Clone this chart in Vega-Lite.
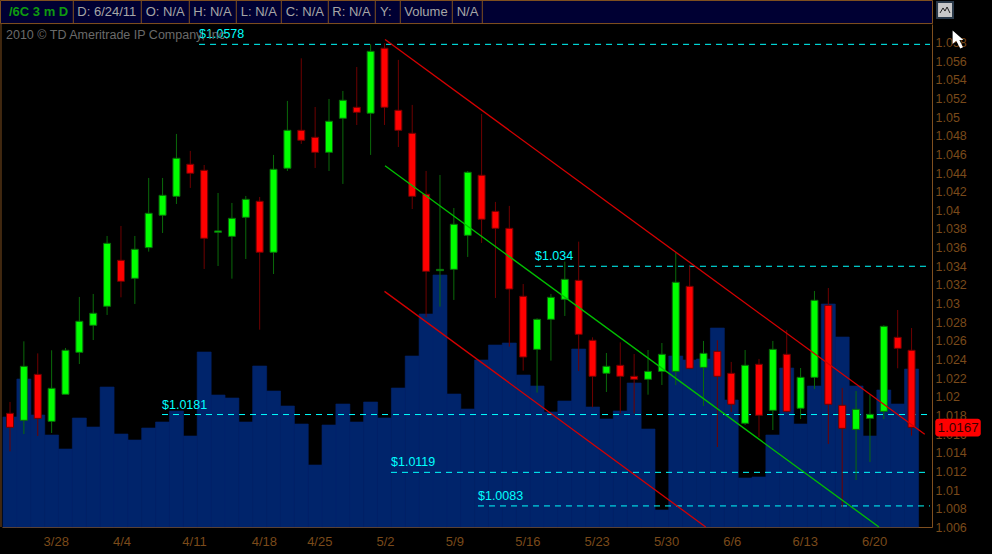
{"$schema":"https://vega.github.io/schema/vega-lite/v6.json","autosize":{"type":"none"},"width":930,"height":503,"padding":{"left":2,"top":24,"right":60,"bottom":27},"background":"#000000","config":{"view":{"stroke":null},"text":{"font":"Liberation Sans"},"scale":{"continuousPadding":0}},
"datasets":{"candles":[
{"bar":0,"date":"3/23","open":1.01823,"high":1.01945,"low":1.01415,"close":1.01673,"volume":11000,"dir":"down"},
{"bar":1,"date":"3/24","open":1.01748,"high":1.02595,"low":1.01601,"close":1.02327,"volume":14800,"dir":"up"},
{"bar":2,"date":"3/25","open":1.02241,"high":1.02466,"low":1.0158,"close":1.01769,"volume":11200,"dir":"down"},
{"bar":3,"date":"3/28","open":1.01737,"high":1.02499,"low":1.01612,"close":1.02091,"volume":9200,"dir":"up"},
{"bar":4,"date":"3/29","open":1.02027,"high":1.02524,"low":1.02027,"close":1.02499,"volume":7800,"dir":"up"},
{"bar":5,"date":"3/30","open":1.02477,"high":1.03071,"low":1.02352,"close":1.0281,"volume":10900,"dir":"up"},
{"bar":6,"date":"3/31","open":1.02767,"high":1.03103,"low":1.02609,"close":1.02896,"volume":10000,"dir":"up"},
{"bar":7,"date":"4/1","open":1.02971,"high":1.03725,"low":1.02878,"close":1.03646,"volume":14000,"dir":"up"},
{"bar":8,"date":"4/4","open":1.03464,"high":1.03832,"low":1.03067,"close":1.03239,"volume":9300,"dir":"down"},
{"bar":9,"date":"4/5","open":1.03271,"high":1.03725,"low":1.02996,"close":1.03582,"volume":8700,"dir":"up"},
{"bar":10,"date":"4/6","open":1.036,"high":1.04347,"low":1.03557,"close":1.03968,"volume":9900,"dir":"up"},
{"bar":11,"date":"4/7","open":1.03947,"high":1.04347,"low":1.03757,"close":1.04161,"volume":10500,"dir":"up"},
{"bar":12,"date":"4/8","open":1.0415,"high":1.04819,"low":1.04068,"close":1.04558,"volume":11600,"dir":"up"},
{"bar":13,"date":"4/11","open":1.04494,"high":1.04637,"low":1.0424,"close":1.04397,"volume":9100,"dir":"down"},
{"bar":14,"date":"4/12","open":1.04429,"high":1.04486,"low":1.03371,"close":1.037,"volume":17500,"dir":"down"},
{"bar":15,"date":"4/13","open":1.03764,"high":1.04186,"low":1.03403,"close":1.03779,"volume":13200,"dir":"up"},
{"bar":16,"date":"4/14","open":1.03721,"high":1.04079,"low":1.03267,"close":1.03914,"volume":12900,"dir":"up"},
{"bar":17,"date":"4/15","open":1.03925,"high":1.04154,"low":1.03478,"close":1.04118,"volume":10500,"dir":"up"},
{"bar":18,"date":"4/18","open":1.04097,"high":1.04143,"low":1.0272,"close":1.0355,"volume":16100,"dir":"down"},
{"bar":19,"date":"4/19","open":1.0355,"high":1.04594,"low":1.03317,"close":1.0444,"volume":13600,"dir":"up"},
{"bar":20,"date":"4/20","open":1.04451,"high":1.05173,"low":1.04422,"close":1.04858,"volume":12100,"dir":"up"},
{"bar":21,"date":"4/21","open":1.04858,"high":1.0563,"low":1.04712,"close":1.04751,"volume":10300,"dir":"down"},
{"bar":22,"date":"4/25","open":1.04783,"high":1.05108,"low":1.04454,"close":1.04622,"volume":6200,"dir":"down"},
{"bar":23,"date":"4/26","open":1.04622,"high":1.05194,"low":1.04422,"close":1.04955,"volume":10200,"dir":"up"},
{"bar":24,"date":"4/27","open":1.04987,"high":1.0528,"low":1.04283,"close":1.0518,"volume":12300,"dir":"up"},
{"bar":25,"date":"4/28","open":1.05105,"high":1.05537,"low":1.04915,"close":1.05051,"volume":10500,"dir":"down"},
{"bar":26,"date":"4/29","open":1.05041,"high":1.05781,"low":1.04594,"close":1.05705,"volume":12500,"dir":"up"},
{"bar":27,"date":"5/2","open":1.05738,"high":1.05791,"low":1.04915,"close":1.05105,"volume":10900,"dir":"down"},
{"bar":28,"date":"5/3","open":1.05073,"high":1.05613,"low":1.04679,"close":1.04858,"volume":13900,"dir":"down"},
{"bar":29,"date":"5/4","open":1.04826,"high":1.0513,"low":1.04014,"close":1.0415,"volume":17100,"dir":"down"},
{"bar":30,"date":"5/5","open":1.04172,"high":1.04422,"low":1.02853,"close":1.03346,"volume":21300,"dir":"down"},
{"bar":31,"date":"5/6","open":1.03353,"high":1.04379,"low":1.02967,"close":1.03367,"volume":25200,"dir":"up"},
{"bar":32,"date":"5/9","open":1.03367,"high":1.04025,"low":1.03039,"close":1.0385,"volume":13300,"dir":"up"},
{"bar":33,"date":"5/10","open":1.03732,"high":1.04422,"low":1.035,"close":1.04408,"volume":11800,"dir":"up"},
{"bar":34,"date":"5/11","open":1.04376,"high":1.05033,"low":1.0365,"close":1.03904,"volume":16700,"dir":"down"},
{"bar":35,"date":"5/12","open":1.03989,"high":1.0409,"low":1.0306,"close":1.03807,"volume":18200,"dir":"down"},
{"bar":36,"date":"5/13","open":1.03807,"high":1.04047,"low":1.02538,"close":1.03156,"volume":18400,"dir":"down"},
{"bar":37,"date":"5/16","open":1.03078,"high":1.0321,"low":1.02281,"close":1.02427,"volume":15200,"dir":"down"},
{"bar":38,"date":"5/17","open":1.02509,"high":1.02842,"low":1.02045,"close":1.02831,"volume":14100,"dir":"up"},
{"bar":39,"date":"5/18","open":1.02831,"high":1.03103,"low":1.02388,"close":1.03067,"volume":11500,"dir":"up"},
{"bar":40,"date":"5/19","open":1.03046,"high":1.0345,"low":1.02867,"close":1.0326,"volume":12600,"dir":"up"},
{"bar":41,"date":"5/20","open":1.03249,"high":1.03664,"low":1.02277,"close":1.0267,"volume":17800,"dir":"down"},
{"bar":42,"date":"5/23","open":1.02606,"high":1.02638,"low":1.01887,"close":1.0222,"volume":12000,"dir":"down"},
{"bar":43,"date":"5/24","open":1.02252,"high":1.0247,"low":1.02052,"close":1.02327,"volume":10800,"dir":"up"},
{"bar":44,"date":"5/25","open":1.02338,"high":1.02584,"low":1.01823,"close":1.0222,"volume":11600,"dir":"down"},
{"bar":45,"date":"5/26","open":1.0222,"high":1.02459,"low":1.01823,"close":1.02188,"volume":14400,"dir":"down"},
{"bar":46,"date":"5/27","open":1.02188,"high":1.02502,"low":1.02023,"close":1.02273,"volume":9800,"dir":"up"},
{"bar":47,"date":"5/30","open":1.02273,"high":1.02577,"low":1.02127,"close":1.02456,"volume":1700,"dir":"up"},
{"bar":48,"date":"5/31","open":1.02273,"high":1.0355,"low":1.02127,"close":1.03228,"volume":17100,"dir":"up"},
{"bar":49,"date":"6/1","open":1.03185,"high":1.03403,"low":1.02298,"close":1.02306,"volume":16700,"dir":"down"},
{"bar":50,"date":"6/2","open":1.02316,"high":1.02599,"low":1.01902,"close":1.02466,"volume":16800,"dir":"up"},
{"bar":51,"date":"6/3","open":1.02488,"high":1.02606,"low":1.01462,"close":1.0222,"volume":19900,"dir":"down"},
{"bar":52,"date":"6/6","open":1.02252,"high":1.02374,"low":1.01837,"close":1.0192,"volume":12700,"dir":"down"},
{"bar":53,"date":"6/7","open":1.01716,"high":1.02502,"low":1.01698,"close":1.02338,"volume":4900,"dir":"up"},
{"bar":54,"date":"6/8","open":1.02349,"high":1.02406,"low":1.01566,"close":1.01802,"volume":5000,"dir":"down"},
{"bar":55,"date":"6/9","open":1.01855,"high":1.02599,"low":1.01644,"close":1.02509,"volume":9200,"dir":"up"},
{"bar":56,"date":"6/10","open":1.02456,"high":1.02717,"low":1.01834,"close":1.01844,"volume":15900,"dir":"down"},
{"bar":57,"date":"6/13","open":1.01877,"high":1.02309,"low":1.01762,"close":1.02209,"volume":10300,"dir":"up"},
{"bar":58,"date":"6/14","open":1.02209,"high":1.03135,"low":1.02084,"close":1.03035,"volume":14100,"dir":"up"},
{"bar":59,"date":"6/15","open":1.02981,"high":1.03167,"low":1.01494,"close":1.0192,"volume":22300,"dir":"down"},
{"bar":60,"date":"6/16","open":1.01909,"high":1.02095,"low":1.00815,"close":1.01662,"volume":19000,"dir":"down"},
{"bar":61,"date":"6/17","open":1.01651,"high":1.02063,"low":1.01108,"close":1.01866,"volume":14100,"dir":"up"},
{"bar":62,"date":"6/20","open":1.01769,"high":1.02027,"low":1.01301,"close":1.01812,"volume":9100,"dir":"up"},
{"bar":63,"date":"6/21","open":1.01844,"high":1.02767,"low":1.01762,"close":1.02756,"volume":13700,"dir":"up"},
{"bar":64,"date":"6/22","open":1.02638,"high":1.02931,"low":1.02306,"close":1.0252,"volume":12300,"dir":"down"},
{"bar":65,"date":"6/23","open":1.02499,"high":1.02738,"low":1.01583,"close":1.01673,"volume":15800,"dir":"down"}
],
"levels":[{"start":13.63,"end":66.33,"level":1.0578,"label":"$1.0578"},{"start":37.85,"end":66.33,"level":1.034,"label":"$1.034"},{"start":10.96,"end":66.33,"level":1.0181,"label":"$1.0181"},{"start":27.47,"end":66.33,"level":1.0119,"label":"$1.0119"},{"start":33.74,"end":66.33,"level":1.0083,"label":"$1.0083"}],
"channels":[{"channel":"upper","bar":27.04,"price":1.05832},{"channel":"upper","bar":65.95,"price":1.01598},{"channel":"lower","bar":27.0,"price":1.03131},{"channel":"lower","bar":50.16,"price":1.00604}],
"median":[{"bar":27.04,"price":1.04478},{"bar":62.65,"price":1.00604}],
"headerSeps":[{"bar":4.564,"top":1.0625,"bottom":1.06003},{"bar":9.466,"top":1.0625,"bottom":1.06003},{"bar":12.927,"top":1.0625,"bottom":1.06003},{"bar":16.316,"top":1.0625,"bottom":1.06003},{"bar":19.561,"top":1.0625,"bottom":1.06003},{"bar":22.949,"top":1.0625,"bottom":1.06003},{"bar":26.337,"top":1.0625,"bottom":1.06003},{"bar":28.14,"top":1.0625,"bottom":1.06003},{"bar":31.889,"top":1.0625,"bottom":1.06003},{"bar":34.052,"top":1.0625,"bottom":1.06003}],
"headerText":[{"bar":4.852,"price":1.06132,"label":"D: 6/24/11"},{"bar":9.784,"price":1.06132,"label":"O: N/A"},{"bar":13.216,"price":1.06132,"label":"H: N/A"},{"bar":16.633,"price":1.06132,"label":"L: N/A"},{"bar":19.878,"price":1.06132,"label":"C: N/A"},{"bar":23.238,"price":1.06132,"label":"R: N/A"},{"bar":26.677,"price":1.06132,"label":"Y:"},{"bar":28.428,"price":1.06132,"label":"Volume"},{"bar":32.206,"price":1.06132,"label":"N/A"}],
"iconLine":[{"bar":67.05,"price":1.06116},{"bar":67.27,"price":1.0617},{"bar":67.41,"price":1.06137},{"bar":67.56,"price":1.0618},{"bar":67.77,"price":1.06116}]
},
"resolve":{"scale":{"y":"independent"},"axis":{"x":"independent","y":"independent"}},
"layer":[
{"data":{"name":"candles"},"mark":{"type":"bar","size":14,"color":"#00246B","stroke":"#00246B","strokeWidth":0.6},"encoding":{"x":{"field":"bar","type":"quantitative","scale":{"domain":[-0.5768,66.474],"padding":0},"axis":{"values":[3,8,13,18,22,27,32,37,42,47,52,57,62],"labelExpr":"['3/28','4/4','4/11','4/18','4/25','5/2','5/9','5/16','5/23','5/30','6/6','6/13','6/20'][indexof([3,8,13,18,22,27,32,37,42,47,52,57,62],datum.value)]","title":null,"grid":false,"ticks":false,"domainColor":"#7F4F1F","labelColor":"#7A4A1A","labelFont":"Liberation Sans","labelFontSize":13,"labelAlign":"left","labelOffset":-8.5,"labelPadding":8,"labelFlush":false,"labelOverlap":false,"labelBound":false}},"y":{"field":"volume","type":"quantitative","scale":{"domain":[0,50300]},"axis":null}}},
{"resolve":{"axis":{"x":"independent","y":"independent"}},"layer":[
{"data":{"name":"levels"},"mark":{"type":"rule","color":"#00FFFF","strokeWidth":1,"strokeDash":[6,5]},"encoding":{"x":{"field":"start","type":"quantitative","scale":{"domain":[-0.5768,66.474],"padding":0},"axis":null},"x2":{"field":"end"},"y":{"field":"level","type":"quantitative","scale":{"domain":[1.00604,1.05998]},"axis":{"orient":"right","values":[1.00604,1.008,1.01,1.012,1.014,1.016,1.018,1.02,1.022,1.024,1.026,1.028,1.03,1.032,1.034,1.036,1.038,1.04,1.042,1.044,1.046,1.048,1.05,1.052,1.054,1.056,1.058],"format":".3~f","title":null,"grid":false,"ticks":false,"domainColor":"#7F4F1F","labelColor":"#7A4A1A","labelFont":"Liberation Sans","labelFontSize":12.5,"labelAlign":"left","labelPadding":3,"labelFlush":false,"labelOverlap":false,"labelBound":false}}}},
{"data":{"name":"levels"},"mark":{"type":"text","color":"#00FFFF","fontSize":12.5,"align":"left","baseline":"middle","dy":-10},"encoding":{"x":{"field":"start","type":"quantitative","scale":{"domain":[-0.5768,66.474],"padding":0},"axis":null},"y":{"field":"level","type":"quantitative","scale":{"domain":[1.00604,1.05998]},"axis":null},"text":{"field":"label"}}},
{"data":{"name":"candles"},"mark":{"type":"rule","strokeWidth":1},"encoding":{"x":{"field":"bar","type":"quantitative","scale":{"domain":[-0.5768,66.474],"padding":0},"axis":null},"y":{"field":"low","type":"quantitative","scale":{"domain":[1.00604,1.05998]},"axis":null},"y2":{"field":"high"},"stroke":{"field":"dir","type":"nominal","scale":{"domain":["up","down"],"range":["#0A6A0A","#6E0000"]},"legend":null}}},
{"data":{"name":"candles"},"mark":{"type":"bar","size":7,"strokeWidth":1,"orient":"vertical"},"encoding":{"x":{"field":"bar","type":"quantitative","scale":{"domain":[-0.5768,66.474],"padding":0},"axis":null},"y":{"field":"open","type":"quantitative","scale":{"domain":[1.00604,1.05998]},"axis":null},"y2":{"field":"close"},"color":{"field":"dir","type":"nominal","scale":{"domain":["up","down"],"range":["#00FF00","#FF0000"]},"legend":null},"stroke":{"field":"dir","type":"nominal","scale":{"domain":["up","down"],"range":["#0A6A0A","#6E0000"]},"legend":null}}},
{"data":{"name":"channels"},"mark":{"type":"line","color":"#D40000","strokeWidth":1.3},"encoding":{"x":{"field":"bar","type":"quantitative","scale":{"domain":[-0.5768,66.474],"padding":0},"axis":null},"y":{"field":"price","type":"quantitative","scale":{"domain":[1.00604,1.05998]},"axis":null},"detail":{"field":"channel"}}},
{"data":{"name":"median"},"mark":{"type":"line","color":"#00C000","strokeWidth":1.3},"encoding":{"x":{"field":"bar","type":"quantitative","scale":{"domain":[-0.5768,66.474],"padding":0},"axis":null},"y":{"field":"price","type":"quantitative","scale":{"domain":[1.00604,1.05998]},"axis":null}}},
{"data":{"values":[{"bar":-0.288,"price":1.0588,"label":"2010 © TD Ameritrade IP Company, Inc."}]},"mark":{"type":"text","color":"#6A6A6A","fontSize":12.5,"align":"left","baseline":"middle"},"encoding":{"x":{"field":"bar","type":"quantitative","scale":{"domain":[-0.5768,66.474],"padding":0},"axis":null},"y":{"field":"price","type":"quantitative","scale":{"domain":[1.00604,1.05998]},"axis":null},"text":{"field":"label"}}},
{"data":{"values":[{"from":-0.685,"to":66.51,"top":1.0625,"bottom":1.06003}]},"mark":{"type":"rect","fill":"#000033","stroke":"#7F4F1F","strokeWidth":1},"encoding":{"x":{"field":"from","type":"quantitative","scale":{"domain":[-0.5768,66.474],"padding":0},"axis":null},"x2":{"field":"to"},"y":{"field":"top","type":"quantitative","scale":{"domain":[1.00604,1.05998]},"axis":null},"y2":{"field":"bottom"}}},
{"data":{"values":[{"bar":-0.65,"top":1.06003,"bottom":1.00604}]},"mark":{"type":"rule","color":"#7F4F1F","strokeWidth":1},"encoding":{"x":{"field":"bar","type":"quantitative","scale":{"domain":[-0.5768,66.474],"padding":0},"axis":null},"y":{"field":"top","type":"quantitative","scale":{"domain":[1.00604,1.05998]},"axis":null},"y2":{"field":"bottom"}}},
{"data":{"name":"headerSeps"},"mark":{"type":"rule","color":"#7F4F1F","strokeWidth":1},"encoding":{"x":{"field":"bar","type":"quantitative","scale":{"domain":[-0.5768,66.474],"padding":0},"axis":null},"y":{"field":"top","type":"quantitative","scale":{"domain":[1.00604,1.05998]},"axis":null},"y2":{"field":"bottom"}}},
{"data":{"name":"headerText"},"mark":{"type":"text","color":"#A6A6A6","fontSize":13,"align":"left","baseline":"middle"},"encoding":{"x":{"field":"bar","type":"quantitative","scale":{"domain":[-0.5768,66.474],"padding":0},"axis":null},"y":{"field":"price","type":"quantitative","scale":{"domain":[1.00604,1.05998]},"axis":null},"text":{"field":"label"}}},
{"data":{"values":[{"bar":-0.072,"price":1.06132,"label":"/6C 3 m D"}]},"mark":{"type":"text","color":"#0F9A0F","fontSize":13,"fontWeight":"bold","align":"left","baseline":"middle"},"encoding":{"x":{"field":"bar","type":"quantitative","scale":{"domain":[-0.5768,66.474],"padding":0},"axis":null},"y":{"field":"price","type":"quantitative","scale":{"domain":[1.00604,1.05998]},"axis":null},"text":{"field":"label"}}},
{"data":{"values":[{"from":66.71,"to":69.99,"top":1.01765,"bottom":1.01575}]},"mark":{"type":"rect","fill":"#FF0000","cornerRadius":3},"encoding":{"x":{"field":"from","type":"quantitative","scale":{"domain":[-0.5768,66.474],"padding":0},"axis":null},"x2":{"field":"to"},"y":{"field":"top","type":"quantitative","scale":{"domain":[1.00604,1.05998]},"axis":null},"y2":{"field":"bottom"}}},
{"data":{"values":[{"bar":68.35,"price":1.0167,"label":"1.0167"}]},"mark":{"type":"text","color":"#3A0000","fontSize":13.5,"align":"center","baseline":"middle"},"encoding":{"x":{"field":"bar","type":"quantitative","scale":{"domain":[-0.5768,66.474],"padding":0},"axis":null},"y":{"field":"price","type":"quantitative","scale":{"domain":[1.00604,1.05998]},"axis":null},"text":{"field":"label"}}},
{"data":{"values":[{"from":66.84,"to":67.99,"top":1.06234,"bottom":1.06062}]},"mark":{"type":"rect","fill":"#C8C8C8","stroke":"#2A3A4A","strokeWidth":2},"encoding":{"x":{"field":"from","type":"quantitative","scale":{"domain":[-0.5768,66.474],"padding":0},"axis":null},"x2":{"field":"to"},"y":{"field":"top","type":"quantitative","scale":{"domain":[1.00604,1.05998]},"axis":null},"y2":{"field":"bottom"}}},
{"data":{"name":"iconLine"},"mark":{"type":"line","color":"#202020","strokeWidth":1},"encoding":{"x":{"field":"bar","type":"quantitative","scale":{"domain":[-0.5768,66.474],"padding":0},"axis":null},"y":{"field":"price","type":"quantitative","scale":{"domain":[1.00604,1.05998]},"axis":null}}},
{"data":{"values":[{"bar":68.35,"price":1.05832}]},"mark":{"type":"point","filled":true,"color":"#FFFFFF","opacity":1,"size":324,"shape":"M-0.6,-1L-0.6,0.5L-0.2,0.15L0.25,1L0.55,0.85L0.15,0.05L0.6,0.05Z"},"encoding":{"x":{"field":"bar","type":"quantitative","scale":{"domain":[-0.5768,66.474],"padding":0},"axis":null},"y":{"field":"price","type":"quantitative","scale":{"domain":[1.00604,1.05998]},"axis":null}}}
]}
]}
